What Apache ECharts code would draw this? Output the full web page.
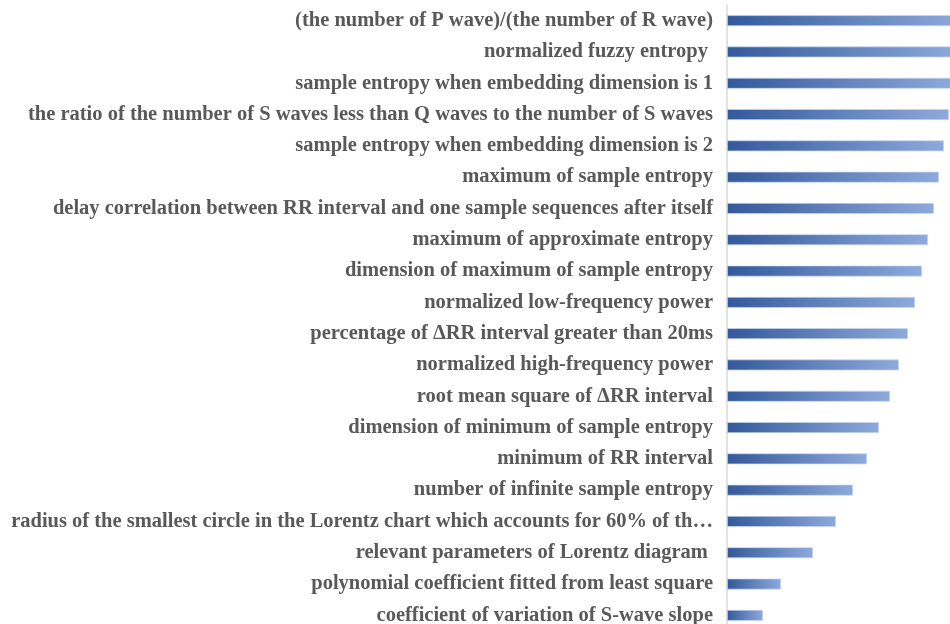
<!DOCTYPE html>
<html><head><meta charset="utf-8">
<script src="https://cdn.jsdelivr.net/npm/echarts@6/dist/echarts.min.js"></script>
<style>html,body{margin:0;padding:0;background:#fff}#c{width:950px;height:624px}</style>
</head><body><div id="c"></div>
<script>
// categories listed top to bottom
const categories = [
  "(the number of P wave)/(the number of R wave)",
  "normalized fuzzy entropy ",
  "sample entropy when embedding dimension is 1",
  "the ratio of the number of S waves less than Q waves to the number of S waves",
  "sample entropy when embedding dimension is 2",
  "maximum of sample entropy",
  "delay correlation between RR interval and one sample sequences after itself",
  "maximum of approximate entropy",
  "dimension of maximum of sample entropy",
  "normalized low-frequency power",
  "percentage of \u0394RR interval greater than 20ms",
  "normalized high-frequency power",
  "root mean square of \u0394RR interval",
  "dimension of minimum of sample entropy",
  "minimum of RR interval",
  "number of infinite sample entropy",
  "radius of the smallest circle in the Lorentz chart which accounts for 60% of th\u2026",
  "relevant parameters of Lorentz diagram ",
  "polynomial coefficient fitted from least square",
  "coefficient of variation of S-wave slope"
];
const values = [235, 231, 227, 222, 217, 212, 207, 201, 195, 188, 181, 172, 163, 152, 140, 126, 109, 86, 54, 36];

const chart = echarts.init(document.getElementById('c'));
chart.setOption({
  animation: false,
  grid: { left: 727, top: 5, width: 300, bottom: -7, containLabel: false, outerBoundsMode: 'none' },
  xAxis: { type: 'value', min: 0, max: 300, show: false },
  yAxis: {
    type: 'category', inverse: true, data: categories,
    axisLine: { show: true, lineStyle: { color: '#d9d9d9', width: 1.5 } },
    axisTick: { show: false },
    axisLabel: { margin: 14, color: '#595959', fontFamily: '"Liberation Serif","Times New Roman",serif', fontWeight: 'bold', fontSize: 20.5 }
  },
  series: [{
    type: 'bar', data: values, barWidth: 11,
    itemStyle: {
      color: new echarts.graphic.LinearGradient(0, 0, 1, 0, [
        { offset: 0, color: '#33599b' }, { offset: 1, color: '#8eaadc' }
      ]),
      borderColor: 'rgba(200,214,238,0.9)', borderWidth: 0.8
    }
  }]
});
</script></body></html>
